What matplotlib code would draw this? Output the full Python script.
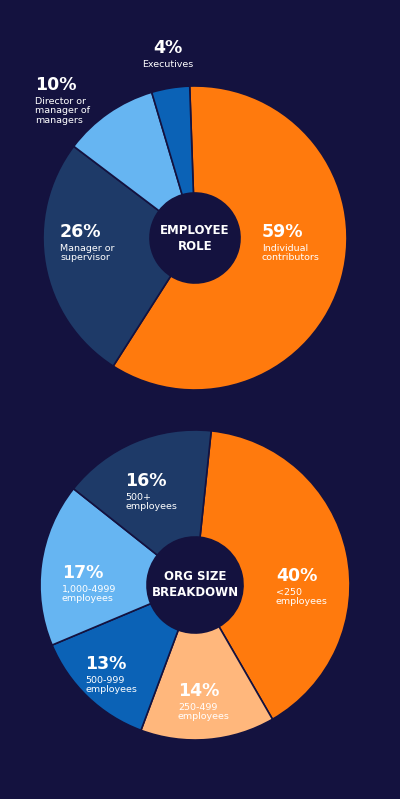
import matplotlib
matplotlib.use("Agg")
from matplotlib import pyplot as plt

BG = "#14123f"
ORANGE = "#ff7a0d"
PEACH = "#ffb77c"
DARK = "#1e3a68"
LIGHT = "#66b5f2"
BLUE = "#0b62b6"

role_values = [59, 26, 10, 4]
role_colors = [ORANGE, DARK, LIGHT, BLUE]
role_pcts = ["59%", "26%", "10%", "4%"]
role_names = ["Individual\ncontributors", "Manager or\nsupervisor",
              "Director or\nmanager of\nmanagers", "Executives"]

org_values = [40, 14, 13, 17, 16]
org_colors = [ORANGE, PEACH, BLUE, LIGHT, DARK]
org_pcts = ["40%", "14%", "13%", "17%", "16%"]
org_names = ["<250\nemployees", "250-499\nemployees", "500-999\nemployees",
             "1,000-4999\nemployees", "500+\nemployees"]

W, H = 400, 799
fig = plt.figure(figsize=(4, 7.99), dpi=100, facecolor=BG)
ax = fig.add_axes([0, 0, 1, 1])
ax.set_xlim(0, W)
ax.set_ylim(0, H)
ax.set_aspect("equal")
ax.axis("off")

wp = dict(width=107, edgecolor=BG, linewidth=1.2)
ax.pie(role_values, colors=role_colors, center=(195, H - 238), radius=152,
       startangle=92, counterclock=False, wedgeprops=wp)
ax.pie(org_values, colors=org_colors, center=(195, H - 585), radius=155,
       startangle=84, counterclock=False, wedgeprops=wp)
ax.set_xlim(0, W)
ax.set_ylim(0, H)

ax.text(195, H - 238, "EMPLOYEE\nROLE", color="white", fontsize=8.5, fontweight="bold",
        ha="center", va="center", linespacing=1.3)
ax.text(195, H - 585, "ORG SIZE\nBREAKDOWN", color="white", fontsize=8.5, fontweight="bold",
        ha="center", va="center", linespacing=1.3)


def label(x, y, pct, name, ha="left"):
    ax.text(x, H - y, pct, color="white", fontsize=12.5, fontweight="bold",
            ha=ha, va="center")
    ax.text(x, H - y - 12, name, color="white", fontsize=6.8, ha=ha, va="top",
            linespacing=1.05)


role_pos = [(262, 232), (60, 232), (35, 85), (168, 48)]
for (x, y), p, n in zip(role_pos, role_pcts, role_names):
    label(x, y, p, n, ha="center" if p == "4%" else "left")

org_pos = [(276, 576), (178, 691), (85, 664), (62, 573), (125, 481)]
for (x, y), p, n in zip(org_pos, org_pcts, org_names):
    label(x, y, p, n)

fig.savefig("out.png", dpi=100, facecolor=BG)
